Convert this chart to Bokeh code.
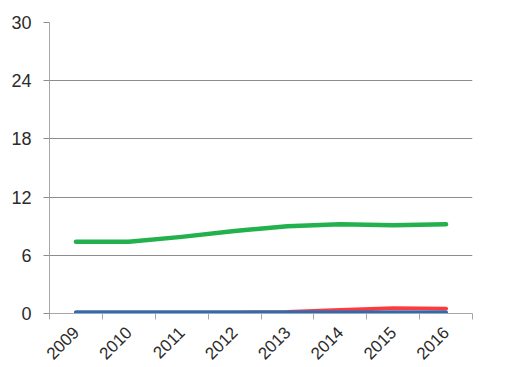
import math
from bokeh.plotting import figure
from bokeh.models import FixedTicker, Range1d
from bokeh.embed import file_html
from bokeh.resources import INLINE

years = ["2009", "2010", "2011", "2012", "2013", "2014", "2015", "2016"]
green_vals = [7.4, 7.4, 7.9, 8.5, 9.0, 9.2, 9.1, 9.2]
red_vals = [0.1, 0.1, 0.1, 0.1, 0.15, 0.35, 0.55, 0.5]
blue_vals = [0.1, 0.1, 0.1, 0.1, 0.1, 0.1, 0.1, 0.1]
y_ticks = [0, 6, 12, 18, 24, 30]

xs = [i + 0.5 for i in range(len(years))]

p = figure(width=524, height=367, output_backend="svg", toolbar_location=None,
           x_range=Range1d(0, len(years)), y_range=Range1d(0, 30),
           min_border_left=49, min_border_right=52, min_border_top=22, min_border_bottom=51)
p.outline_line_color = None
p.background_fill_color = "white"
p.border_fill_color = "white"

p.line(xs, red_vals, line_color="#ff3a3a", line_width=4, line_cap="round", line_join="round")
p.line(xs, blue_vals, line_color="#1f70c1", line_width=4, line_cap="round", line_join="round")
p.line(xs, green_vals, line_color="#22b14c", line_width=4.5, line_cap="round", line_join="round")

grid_col = "#8c8c8c"
axis_col = "#a6a6a6"
label_col = "#2b2b2b"

# x axis: marks at category boundaries, labels at category centres
p.xaxis.ticker = FixedTicker(ticks=xs, minor_ticks=list(range(len(years) + 1)))
p.xaxis.major_label_overrides = {x: y for x, y in zip(xs, years)}
p.xaxis.major_tick_line_color = None
p.xaxis.minor_tick_line_color = axis_col
p.xaxis.minor_tick_in = 0
p.xaxis.minor_tick_out = 6
p.xaxis.axis_line_color = axis_col
p.xaxis.major_label_orientation = math.pi / 4
p.xaxis.major_label_standoff = 10
p.xaxis.major_label_text_font = "Liberation Sans"
p.xaxis.major_label_text_font_size = "17px"
p.xaxis.major_label_text_color = label_col
p.xgrid.grid_line_color = None

# y axis
p.yaxis.ticker = FixedTicker(ticks=y_ticks)
p.yaxis.minor_tick_line_color = None
p.yaxis.major_tick_in = 0
p.yaxis.major_tick_out = 6
p.yaxis.major_tick_line_color = grid_col
p.yaxis.axis_line_color = axis_col
p.yaxis.major_label_standoff = 12
p.yaxis.major_label_text_font = "Liberation Sans"
p.yaxis.major_label_text_font_size = "18px"
p.yaxis.major_label_text_color = label_col
p.ygrid.grid_line_color = grid_col
p.ygrid.grid_line_width = 1

open("out.html", "w").write(file_html(p, INLINE))
